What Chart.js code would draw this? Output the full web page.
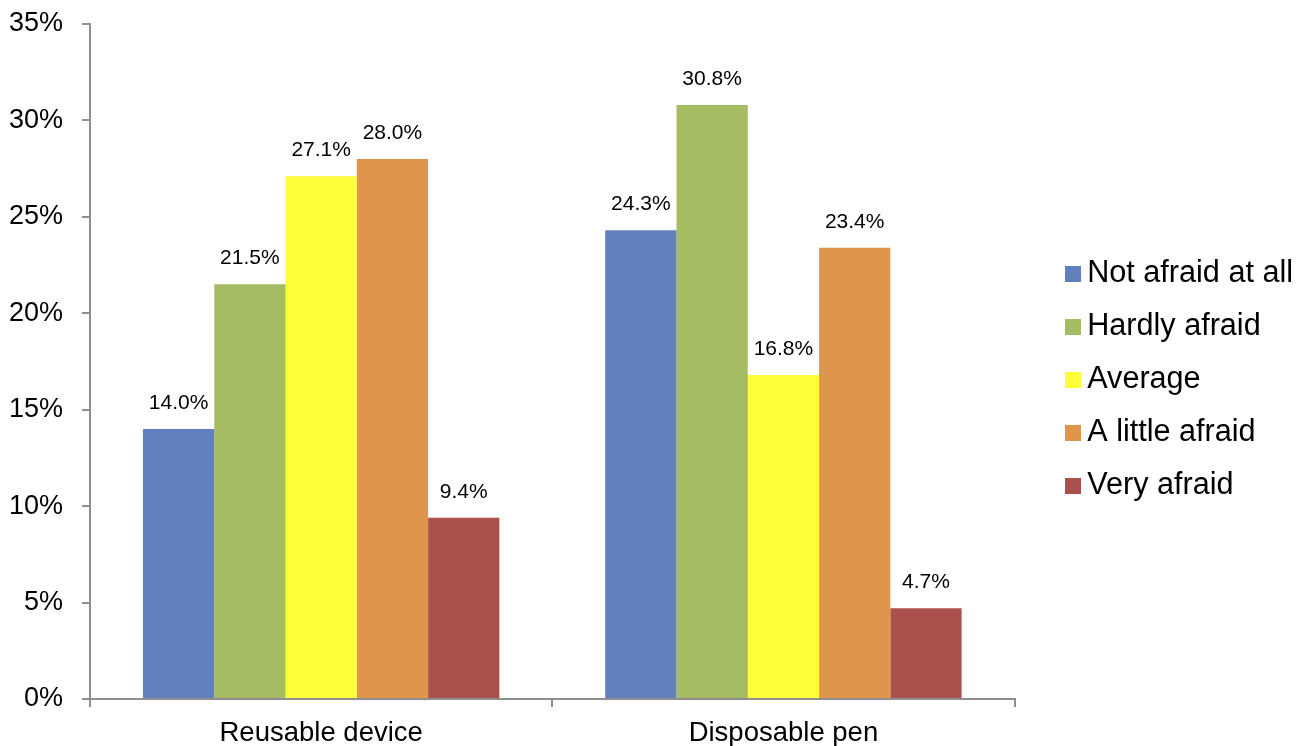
<!DOCTYPE html>
<html>
<head>
<meta charset="utf-8">
<script src="https://cdn.jsdelivr.net/npm/chart.js@4"></script>
<style>
  html, body { margin: 0; padding: 0; background: #fff; }
  #wrap { width: 1312px; height: 746px; }
</style>
</head>
<body>
<div id="wrap"><canvas id="c" width="1312" height="746"></canvas></div>
<script>
const categories = ["Reusable device", "Disposable pen"];
const seriesNames = ["Not afraid at all", "Hardly afraid", "Average", "A little afraid", "Very afraid"];
const notAfraid = [14.0, 24.3];
const hardlyAfraid = [21.5, 30.8];
const average = [27.1, 16.8];
const littleAfraid = [28.0, 23.4];
const veryAfraid = [9.4, 4.7];
const yTicks = [0, 5, 10, 15, 20, 25, 30, 35];

const colors = ["#6280BB", "#A5BC62", "#FFFF3B", "#E0954C", "#AA514E"];
const seriesValues = [notAfraid, hardlyAfraid, average, littleAfraid, veryAfraid];
const FONT = "'Liberation Sans', Arial, sans-serif";
const AXIS = "#8F8F8F";
const LEGEND_SHIFT = 33;
const BOX = 16;
const SWATCH_W = 20;
const LEGEND_FONT = 30.6;

// legend swatches as small canvases (box drawn at right side of swatch)
const swatches = colors.map(c => {
  const cv = document.createElement('canvas');
  cv.width = SWATCH_W; cv.height = BOX;
  const g = cv.getContext('2d');
  g.fillStyle = c; g.fillRect(SWATCH_W - BOX, 0, BOX, BOX);
  return cv;
});

const labelPlugin = {
  id: 'barLabels',
  afterDatasetsDraw(chart) {
    const ctx = chart.ctx;
    ctx.save();
    ctx.font = "21px " + FONT;
    ctx.fillStyle = "#000";
    ctx.textAlign = "center";
    ctx.textBaseline = "middle";
    chart.data.datasets.forEach((ds, i) => {
      const meta = chart.getDatasetMeta(i);
      meta.data.forEach((el, j) => {
        ctx.fillText(ds.data[j].toFixed(1) + "%", el.x, el.y - 26);
      });
    });
    ctx.restore();
  }
};

const legendPatch = {
  id: 'legendPatch',
  beforeLayout(chart) {
    const lg = chart.legend;
    if (lg && !lg._patched) {
      lg._patched = true;
      const fit = lg.fit.bind(lg);
      lg.fit = function () { fit(); this.width += LEGEND_SHIFT; };
      const draw = lg.draw.bind(lg);
      lg.draw = function (a) { this.left += LEGEND_SHIFT; draw(a); this.left -= LEGEND_SHIFT; };
    }
  }
};

new Chart(document.getElementById('c'), {
  type: 'bar',
  data: {
    labels: categories,
    datasets: seriesNames.map((n, i) => ({
      label: n,
      data: seriesValues[i],
      backgroundColor: colors[i],
      borderWidth: 0,
      barPercentage: 1.0,
      categoryPercentage: 0.771
    }))
  },
  options: {
    responsive: false,
    animation: false,
    devicePixelRatio: 1,
    layout: { padding: { left: -10, top: 0, right: 9, bottom: -14 } },
    plugins: {
      legend: {
        position: 'right',
        labels: {
          font: { family: FONT, size: LEGEND_FONT },
          color: "#000",
          usePointStyle: true,
          boxWidth: 2,
          boxHeight: 30,
          padding: 53 - LEGEND_FONT,
          generateLabels(chart) {
            const items = Chart.defaults.plugins.legend.labels.generateLabels(chart);
            items.forEach(it => { it.pointStyle = swatches[it.datasetIndex]; });
            return items;
          }
        }
      },
      tooltip: { enabled: false }
    },
    scales: {
      x: {
        grid: { display: true, drawOnChartArea: false, drawTicks: true, tickLength: 8, color: AXIS, lineWidth: 2, offset: true },
        border: { display: true, color: AXIS, width: 2 },
        ticks: { font: { family: FONT, size: 27.5 }, color: "#000", padding: 10 }
      },
      y: {
        min: 0,
        max: 35,
        afterBuildTicks(axis) { axis.ticks = yTicks.map(v => ({ value: v })); },
        afterFit(axis) { axis.paddingTop = 24; axis.paddingBottom = 10; },
        grid: { display: true, drawOnChartArea: false, drawTicks: true, tickLength: 8, color: AXIS, lineWidth: 2 },
        border: { display: true, color: AXIS, width: 2 },
        ticks: { font: { family: FONT, size: 27 }, color: "#000", padding: 19, callback: v => v + "%" }
      }
    }
  },
  plugins: [labelPlugin, legendPatch]
});
</script>
</body>
</html>
